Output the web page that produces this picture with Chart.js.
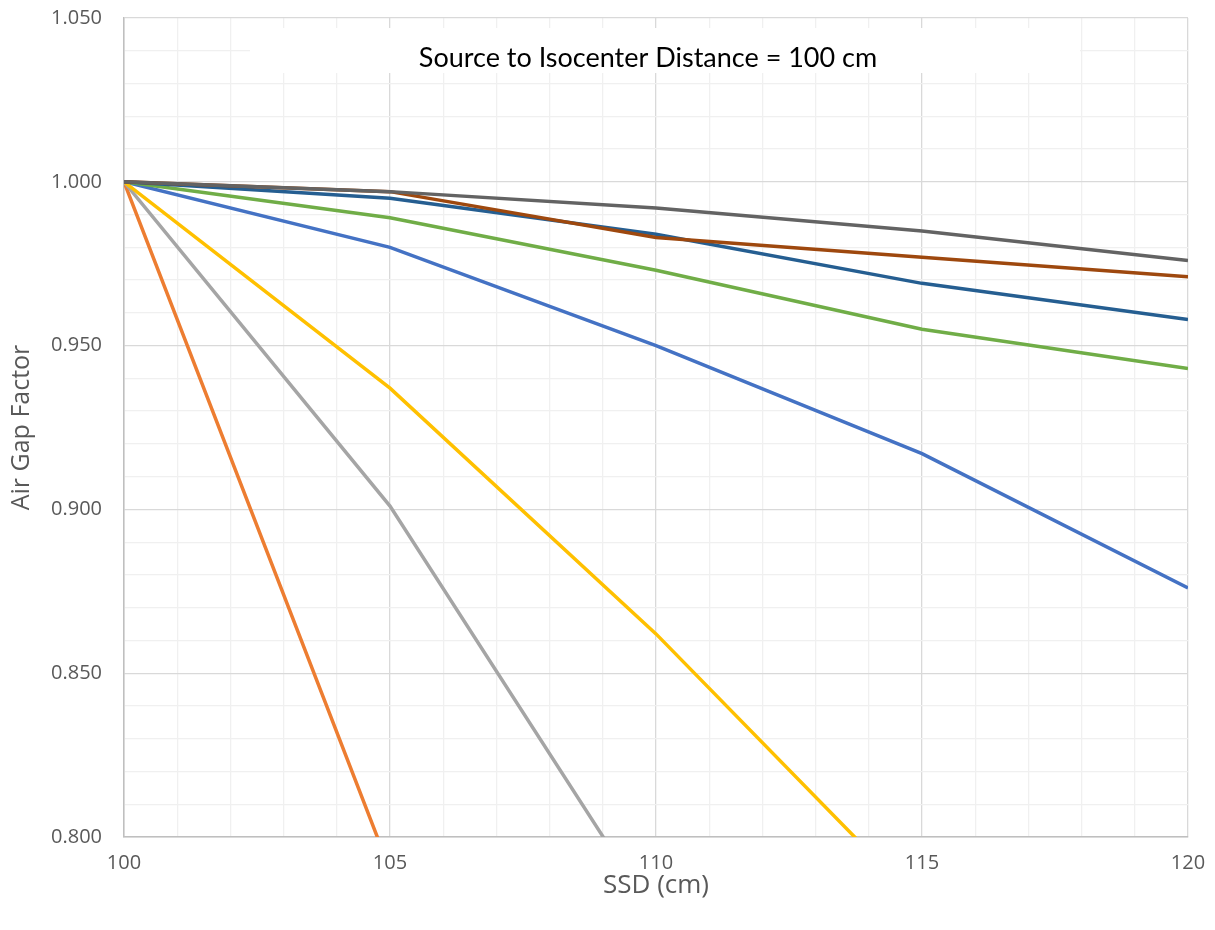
<!DOCTYPE html>
<html>
<head>
<meta charset="utf-8">
<script src="https://cdn.jsdelivr.net/npm/chart.js@4.4.0/dist/chart.umd.min.js"></script>
<style>
  html, body { margin: 0; padding: 0; background: #fff; }
  #box { width: 1215px; height: 930px; position: relative; }
</style>
</head>
<body>
<div id="box"><canvas id="chart"></canvas></div>
<script>
// SSD values (cm)
const ssd = [100, 105, 110, 115, 120];

// air gap factor series (listed in Excel series order)
const seriesBlue     = [1.000, 0.980, 0.950, 0.917, 0.876];
const seriesOrange   = [1.000, 0.790, 0.600, 0.450, 0.330];
const seriesGray     = [1.000, 0.901, 0.775, 0.650, 0.550];
const seriesYellow   = [1.000, 0.937, 0.862, 0.779, 0.700];
const seriesGreen    = [1.000, 0.989, 0.973, 0.955, 0.943];
const seriesDarkBlue = [1.000, 0.995, 0.984, 0.969, 0.958];
const seriesBrown    = [1.000, 0.997, 0.983, 0.977, 0.971];
const seriesDarkGray = [1.000, 0.997, 0.992, 0.985, 0.976];

const seriesList = [
    { name: 'Series 1', values: seriesBlue, color: '#4472C4' },
    { name: 'Series 2', values: seriesOrange, color: '#ED7D31' },
    { name: 'Series 3', values: seriesGray, color: '#A5A5A5' },
    { name: 'Series 4', values: seriesYellow, color: '#FFC000' },
    { name: 'Series 5', values: seriesGreen, color: '#70AD47' },
    { name: 'Series 6', values: seriesDarkBlue, color: '#255E91' },
    { name: 'Series 7', values: seriesBrown, color: '#9E480E' },
    { name: 'Series 8', values: seriesDarkGray, color: '#636363' },
];

const titleText = 'Source to Isocenter Distance = 100 cm';
const xTitle = 'SSD (cm)';
const yTitle = 'Air Gap Factor';

const FONT = '"Open Sans", sans-serif';
const TITLE_FONT = 'Lato, sans-serif';
const labelColor = '#595959';
const majorGrid = '#d9d9d9';
const minorGrid = '#f0f0f0';

// Chart.js draws dataset 0 on top, Excel draws the last series on top
const datasets = seriesList.map((s, i) => ({
    label: s.name,
    data: s.values.map((v, j) => ({ x: ssd[j], y: v })),
    borderColor: s.color,
    backgroundColor: s.color,
    borderWidth: 3.5,
    pointRadius: 0,
    fill: false,
    tension: 0,
    order: seriesList.length - i,
}));

// title sitting inside the plot on a white box
const insideTitle = {
    id: 'insideTitle',
    beforeDatasetsDraw(chart) {
        const { ctx, chartArea } = chart;
        ctx.save();
        ctx.fillStyle = '#fff';
        ctx.fillRect(chartArea.left + 126, chartArea.top + 10, chartArea.right - chartArea.left - 234, 45);
        ctx.fillStyle = '#000';
        ctx.font = '27px ' + TITLE_FONT;
        ctx.textAlign = 'center';
        ctx.textBaseline = 'middle';
        ctx.fillText(titleText, (chartArea.left + chartArea.right) / 2 - 8, chartArea.top + 40);
        ctx.restore();
    },
};

const isMajorX = (v) => Math.abs(v % 5) < 1e-6;
const isMajorY = (v) => Math.round(v * 1000) % 50 === 0;

new Chart(document.getElementById('chart'), {
    type: 'line',
    data: { datasets },
    options: {
        animation: false,
        responsive: true,
        maintainAspectRatio: false,
        layout: { padding: { top: 18, right: 27, left: 0, bottom: 0 } },
        plugins: {
            legend: { display: false },
            tooltip: { enabled: false },
        },
        scales: {
            x: {
                type: 'linear',
                min: 100,
                max: 120,
                afterFit: (scale) => {
                    scale.height = 93;
                    scale.paddingLeft = 0;
                    scale.paddingRight = 0;
                },
                ticks: {
                    stepSize: 1,
                    autoSkip: false,
                    maxRotation: 0,
                    padding: 14,
                    color: labelColor,
                    font: { family: FONT, size: 20 },
                    callback: (v) => (isMajorX(v) ? String(v) : ''),
                },
                grid: {
                    drawTicks: false,
                    color: (c) => (c.tick && isMajorX(c.tick.value) ? majorGrid : minorGrid),
                    lineWidth: 1.3,
                },
                border: { color: '#bfbfbf', width: 1.5 },
                title: {
                    display: true,
                    text: xTitle,
                    color: labelColor,
                    font: { family: FONT, size: 26 },
                    padding: { top: 0, bottom: 29 },
                },
            },
            y: {
                min: 0.8,
                max: 1.05,
                afterFit: (scale) => {
                    scale.width = 124;
                    scale.paddingTop = 0;
                    scale.paddingBottom = 0;
                },
                ticks: {
                    stepSize: 0.01,
                    autoSkip: false,
                    padding: 22,
                    color: labelColor,
                    font: { family: FONT, size: 20 },
                    callback: (v) => (isMajorY(v) ? v.toFixed(3) : ''),
                },
                grid: {
                    drawTicks: false,
                    color: (c) => (c.tick && isMajorY(c.tick.value) ? majorGrid : minorGrid),
                    lineWidth: 1.3,
                },
                border: { color: '#bfbfbf', width: 1.5 },
                title: {
                    display: true,
                    text: yTitle,
                    color: labelColor,
                    font: { family: FONT, size: 25 },
                    padding: { top: 7, bottom: 0 },
                },
            },
        },
    },
    plugins: [insideTitle],
});
</script>
</body>
</html>
